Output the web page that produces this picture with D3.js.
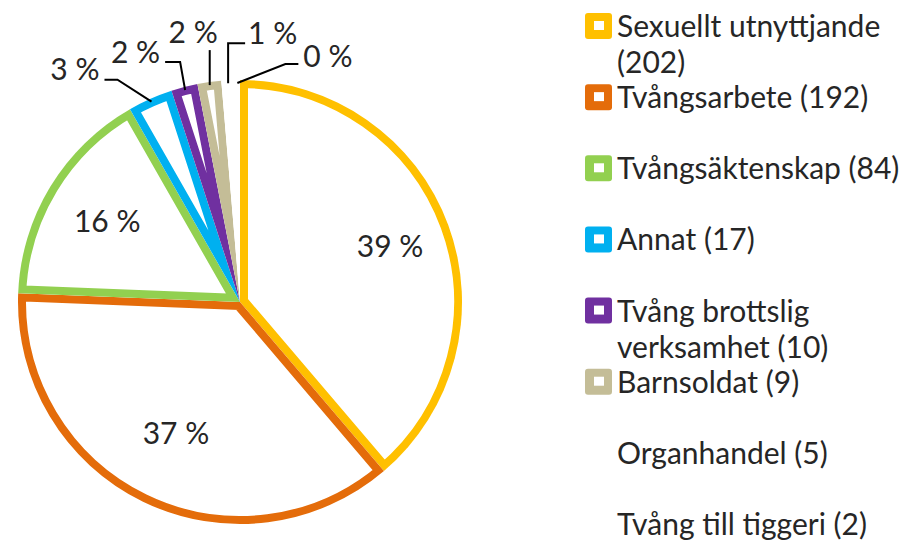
<!DOCTYPE html>
<html>
<head>
<meta charset="utf-8">
<script src="https://d3js.org/d3.v7.min.js"></script>
<style>
  body { margin: 0; background: #fff; }
  svg { display: block; font-family: Lato, "Open Sans", sans-serif; }
</style>
</head>
<body>
<svg id="chart"></svg>
<script>
(function() {

  // data
  const categories = ['Sexuellt utnyttjande', 'Tvångsarbete', 'Tvångsäktenskap', 'Annat',
    'Tvång brottslig verksamhet', 'Barnsoldat', 'Organhandel', 'Tvång till tiggeri'];
  const counts = [202, 192, 84, 17, 10, 9, 5, 2];
  const colors = ['#FFC000', '#E46C0A', '#92D050', '#00B0F0', '#7030A0', '#C4BD97', '#FFFFFF', '#FFFFFF'];

  const width = 910;
  const height = 548;
  const cx = 240;
  const cy = 302;
  const radius = 222;
  const borderWidth = 8;
  const fontSize = 30;
  const textColor = '#262626';

  const svg = d3.select('#chart')
    .attr('width', width)
    .attr('height', height);

  const total = d3.sum(counts);
  const fmt = function(v) { return Math.round(v / total * 100) + ' %'; };

  const pie = d3.pie().sort(null).value(function(d) { return d.value; });
  const arc = d3.arc().innerRadius(0).outerRadius(radius);

  const slices = pie(categories.map(function(c, i) {
    return { name: c, value: counts[i], color: colors[i] };
  }));

  const pieGroup = svg.append('g')
    .attr('transform', 'translate(' + cx + ',' + cy + ')');

  const defs = svg.append('defs');
  defs.selectAll('clipPath')
    .data(slices)
    .enter()
    .append('clipPath')
    .attr('id', function(d, i) { return 'clip' + i; })
    .append('path')
    .attr('d', arc);

  // white slices with an inner coloured border
  pieGroup.selectAll('path.slice')
    .data(slices)
    .enter()
    .append('path')
    .attr('class', 'slice')
    .attr('d', arc)
    .attr('fill', '#fff')
    .attr('stroke', function(d) { return d.data.color; })
    .attr('stroke-width', borderWidth * 2)
    .attr('stroke-linejoin', 'miter')
    .attr('clip-path', function(d, i) { return 'url(#clip' + i + ')'; });

  // labels inside the three big slices
  const innerRadii = [0.72, 0.66, 0.7];
  pieGroup.selectAll('text.inner')
    .data(slices.slice(0, 3))
    .enter()
    .append('text')
    .attr('class', 'inner')
    .attr('transform', function(d, i) {
      const a = d3.arc().innerRadius(radius * innerRadii[i]).outerRadius(radius * innerRadii[i]);
      const c = a.centroid(d);
      return 'translate(' + c[0] + ',' + (c[1] + fontSize * 0.35) + ')';
    })
    .attr('text-anchor', 'middle')
    .style('font-size', fontSize + 'px')
    .style('fill', textColor)
    .text(function(d) { return fmt(d.value); });

  // outside labels with leader lines for the small slices
  // elbow offset from arc point, horizontal run, label anchor
  const leaderLayout = [
    { ex: -34, ey: -22, run: -13, anchor: 'end', lx: -5, ly: 0 },
    { ex: -5, ey: -28, run: -15, anchor: 'end', lx: -5, ly: 1 },
    { ex: 0, ey: -35, run: 0, anchor: 'end', lx: 8, ly: -7 },
    { ex: 0, ey: -40, run: 17, anchor: 'start', lx: 3, ly: 1 },
    { ex: 48, ey: -19, run: 13, anchor: 'start', lx: 5, ly: 3 }
  ];

  const outer = pieGroup.selectAll('g.outer')
    .data(slices.slice(3))
    .enter()
    .append('g')
    .attr('class', 'outer');

  function anchorPoint(d) {
    const mid = (d.startAngle + d.endAngle) / 2;
    const r = radius - 3;
    return [Math.sin(mid) * r, -Math.cos(mid) * r];
  }

  outer.append('polyline')
    .attr('points', function(d, i) {
      const p = anchorPoint(d);
      const L = leaderLayout[i];
      const e = [p[0] + L.ex, p[1] + L.ey];
      return [p, e, [e[0] + L.run, e[1]]].map(function(q) { return q.join(','); }).join(' ');
    })
    .attr('fill', 'none')
    .attr('stroke', '#000')
    .attr('stroke-width', 2);

  outer.append('text')
    .attr('x', function(d, i) {
      const L = leaderLayout[i];
      return anchorPoint(d)[0] + L.ex + L.run + L.lx;
    })
    .attr('y', function(d, i) {
      const L = leaderLayout[i];
      return anchorPoint(d)[1] + L.ey + L.ly;
    })
    .attr('text-anchor', function(d, i) { return leaderLayout[i].anchor; })
    .style('font-size', fontSize + 'px')
    .style('fill', textColor)
    .text(function(d) { return fmt(d.value); });

  // legend
  const legendX = 585;
  const legendY = d3.scaleLinear().domain([0, categories.length - 1]).range([37, 535]);
  const maxTextWidth = 290;

  const legend = svg.append('g')
    .attr('class', 'legend')
    .selectAll('g')
    .data(categories)
    .enter()
    .append('g')
    .attr('transform', function(d, i) { return 'translate(' + legendX + ',' + legendY(i) + ')'; });

  legend.append('rect')
    .attr('x', 0)
    .attr('y', -24)
    .attr('width', 27)
    .attr('height', 26)
    .attr('rx', 3)
    .attr('fill', function(d, i) { return colors[i]; });

  legend.append('rect')
    .attr('x', 9)
    .attr('y', -16)
    .attr('width', 10)
    .attr('height', 9)
    .attr('fill', '#fff');

  legend.append('text')
    .attr('x', 32)
    .attr('y', 0)
    .style('font-size', fontSize + 'px')
    .style('fill', textColor)
    .each(function(d, i) {
      const t = d3.select(this);
      const words = (d + ' (' + counts[i] + ')').split(' ');
      let line = [];
      let tspan = t.append('tspan').attr('x', 32).attr('dy', 0);
      words.forEach(function(w) {
        line.push(w);
        tspan.text(line.join(' '));
        if (tspan.node().getComputedTextLength() > maxTextWidth && line.length > 1) {
          line.pop();
          tspan.text(line.join(' '));
          line = [w];
          tspan = t.append('tspan').attr('x', 32).attr('dy', 36).text(w);
        }
      });
    });

})();
</script>
</body>
</html>
